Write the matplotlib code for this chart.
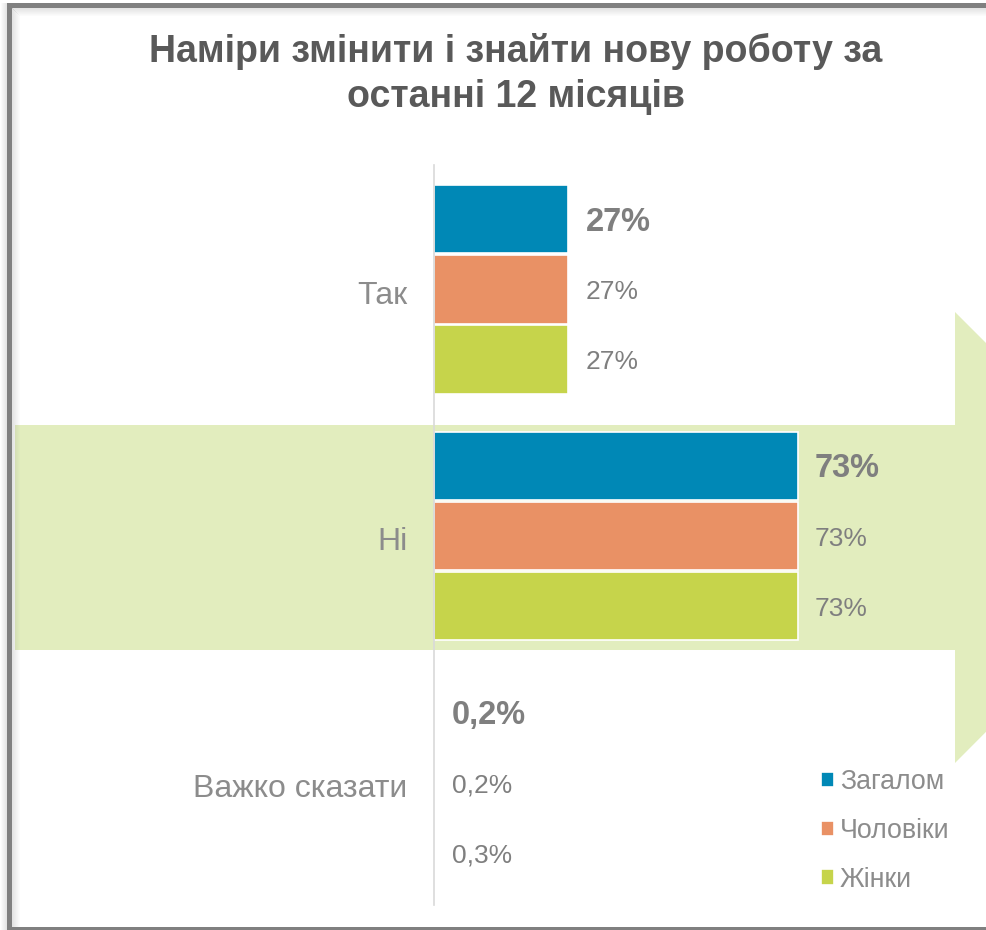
import matplotlib
matplotlib.use("Agg")
import matplotlib.pyplot as plt
from matplotlib.patches import Polygon, Rectangle
from matplotlib.transforms import ScaledTranslation

# ---------------- data ----------------
categories = ["Так", "Ні", "Важко сказати"]
series_names = ["Загалом", "Чоловіки", "Жінки"]
total = [27, 73, 0.2]
men = [27, 73, 0.2]
women = [27, 73, 0.3]
labels_total = ["27%", "73%", "0,2%"]
labels_men = ["27%", "73%", "0,2%"]
labels_women = ["27%", "73%", "0,3%"]
title = "Наміри змінити і знайти нову роботу за\nостанні 12 місяців"

colors = ["#0088B6", "#E99165", "#C6D44B"]
text_gray = "#7F7F7F"
title_gray = "#595959"

plt.rcParams['font.family'] = ['Liberation Sans', 'DejaVu Sans']

W, H = 986, 930
fig = plt.figure(figsize=(W / 100, H / 100), dpi=100)
fig.patch.set_facecolor("white")


def fx(px):
    return px / W


def fy(py):
    return 1 - py / H


# background arrow shape (decorative)
arrow_px = [(15, 425), (955, 425), (955, 312), (1180, 537), (955, 763),
            (955, 650), (15, 650)]
fig.patches.append(Polygon([(fx(x), fy(y)) for x, y in arrow_px], closed=True,
                           transform=fig.transFigure, facecolor="#E2EDBE",
                           edgecolor="none", zorder=0))

# frame with soft shadow
def frect(x0, y0, x1, y1, color, alpha=1.0):
    fig.patches.append(Rectangle((fx(x0), fy(y1)), fx(x1) - fx(x0), fy(y0) - fy(y1),
                                 transform=fig.transFigure, facecolor=color,
                                 edgecolor="none", alpha=alpha, zorder=1))

for i in range(8):
    a = 0.22 * (1 - i / 8)
    frect(12 + i, 8 + i, 12 + i + 1, 927, "#808080", a)     # inner left shadow
    frect(12 + i, 8 + i, W, 8 + i + 1, "#808080", a)       # inner top shadow
for i in range(6):
    a = 0.2 * (1 - i / 6)
    frect(6 - i, 3, 7 - i, H, "#808080", a)                 # outer left shadow
frect(7, 3, 12, H, "#808080")
frect(7, 3, W, 8, "#808080")
frect(7, 927, W, H, "#808080")

# ---------------- axes ----------------
ax = fig.add_axes([fx(434), fy(905), fx(932) - fx(434), (905 - 165) / H])
ax.patch.set_alpha(0)
ax.set_zorder(2)

centers = [0, 1, 2]
offsets = [-0.284, 0.0, 0.284]
h = 0.276
all_vals = [total, men, women]
all_labels = [labels_total, labels_men, labels_women]

down = ScaledTranslation(0, -3 / 100, fig.dpi_scale_trans)

bars = []
for s, (vals, labs, off, col) in enumerate(zip(all_vals, all_labels, offsets, colors)):
    ys = [c + off for c in centers]
    b = ax.barh(ys, vals, height=h, color=col, edgecolor="white", linewidth=1.2,
                label=series_names[s])
    bars.append(b)
    for y, v, lab in zip(ys, vals, labs):
        ax.text(v + 3.4, y, lab, va="center", ha="left",
                fontsize=23.5 if s == 0 else 19,
                fontweight="bold" if s == 0 else "normal",
                color=text_gray, transform=ax.transData + down)

ax.set_xlim(0, 100)
ax.set_ylim(2.497, -0.505)
ax.set_yticks(centers)
ax.set_yticklabels(categories, fontsize=23, color="#8C8C8C")
ax.tick_params(axis="y", length=0, pad=19)
for lbl in ax.get_yticklabels():
    lbl.set_transform(lbl.get_transform() + down)
ax.set_xticks([])
for sp in ["top", "right", "bottom"]:
    ax.spines[sp].set_visible(False)
ax.spines["left"].set_color("#D9D9D9")
ax.spines["left"].set_linewidth(1.2)

fig.legend(handles=bars, labels=series_names, loc="upper left",
           bbox_to_anchor=(fx(821), fy(769)), frameon=False,
           handlelength=0.5, handleheight=0.5, handletextpad=0.2,
           labelspacing=0.85, fontsize=19.3, labelcolor="#8C8C8C",
           borderpad=0, borderaxespad=0)

fig.text(fx(516), fy(74), title, ha="center", va="center", fontsize=27,
         fontweight="bold", color=title_gray, linespacing=1.33)

fig.savefig("out.png", dpi=100)
